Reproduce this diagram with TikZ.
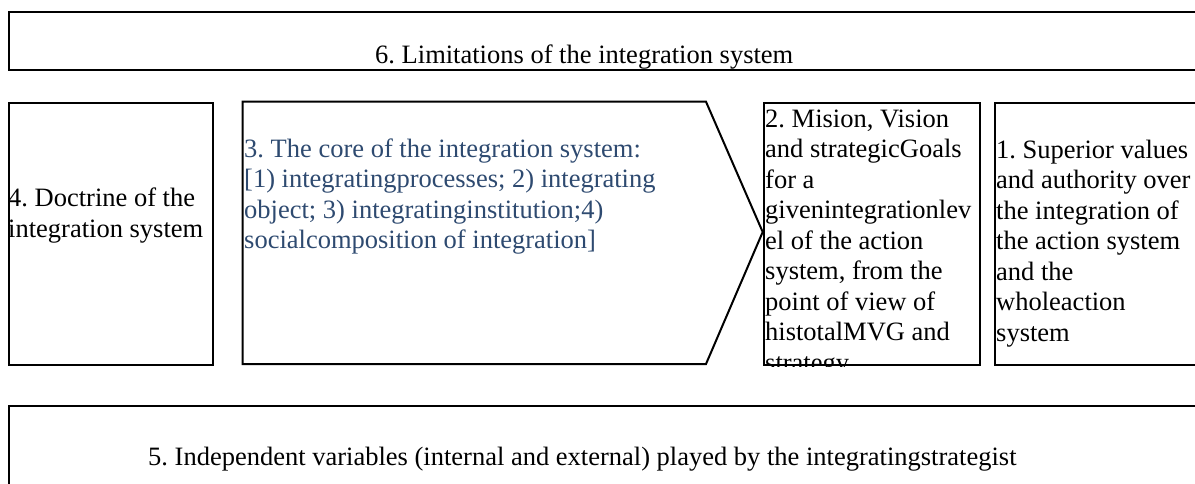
\documentclass[tikz,border=0pt]{standalone}
\usepackage{fontspec}
\setmainfont{Liberation Serif}
\definecolor{coreblue}{RGB}{46,74,112}
\frenchspacing
\begin{document}
\begin{tikzpicture}[x=1pt,y=-1pt,
  box/.style={draw=black, line width=2pt, inner sep=0pt, anchor=north west},
  txt/.style={inner sep=0pt, align=left, anchor=north west, font=\fontsize{26.5}{30.5}\selectfont},
  oneline/.style={inner sep=0pt, anchor=base west, font=\fontsize{26.5}{30.5}\selectfont}]
\useasboundingbox (0,0) rectangle (1195,483);
\clip (0,0) rectangle (1195,483);
% boxes
\node[box, minimum width=1202pt, minimum height=58.6pt] (b6) at (8,10.7) {};
\node[box, minimum width=204.3pt, minimum height=262.3pt] (b4) at (7.7,101.7) {};
\node[box, minimum width=216.3pt, minimum height=262.3pt] (b2) at (762.7,101.7) {};
\node[box, minimum width=216pt, minimum height=262.3pt] (b1) at (994,101.7) {};
\node[box, minimum width=1202pt, minimum height=100pt] (b5) at (8,405) {};
% core arrow shape
\coordinate (c1) at (242.7,101.7);
\coordinate (c2) at (706,101.7);
\coordinate (c3) at (762.7,232);
\coordinate (c4) at (706,364);
\coordinate (c5) at (242.7,364);
\draw[line width=2pt, line join=miter] (c1) -- (c2) -- (c3) -- (c4) -- (c5) -- cycle;
% texts
\node[oneline] (t6) at (375,63) {6. Limitations of the integration system};
\node[txt] (t4) at (8,185.3) {\strut 4. Doctrine of the\\integration system};
\node[txt, text=coreblue] (t3) at (244,135.6) {\strut 3. The core of the integration system:\\{[}1) integratingprocesses; 2) integrating\\object; 3) integratinginstitution;4)\\socialcomposition of integration]};
\begin{scope}
\clip (b2.north west) rectangle (b2.south east);
\node[txt] (t2) at (765,105.6) {\strut 2. Mision, Vision\\and strategicGoals\\for a\\givenintegrationlev\\el of the action\\system, from the\\point of view of\\histotalMVG and\\strategy};
\end{scope}
\node[txt] (t1) at (996,136.6) {\strut 1. Superior values\\and authority over\\the integration of\\the action system\\and the\\wholeaction\\system};
\node[oneline] (t5) at (148,465) {5. Independent variables (internal and external) played by the integratingstrategist};
\end{tikzpicture}
\end{document}
